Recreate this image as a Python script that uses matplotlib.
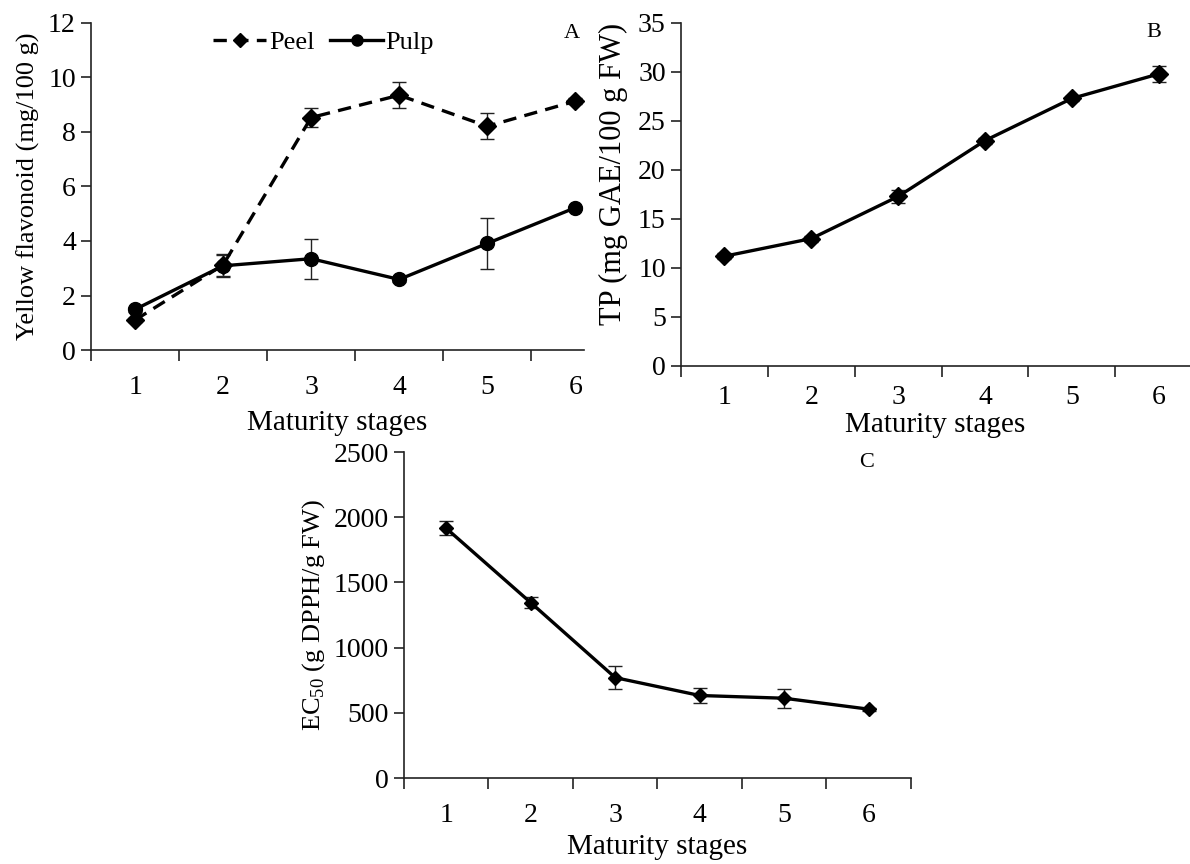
import numpy as np
import matplotlib
matplotlib.use("Agg")
import matplotlib.pyplot as plt
from matplotlib.ticker import MultipleLocator, FixedLocator

plt.rcParams['font.family'] = ['Liberation Serif', 'DejaVu Serif']
plt.rcParams['mathtext.fontset'] = 'custom'
plt.rcParams['mathtext.rm'] = 'Liberation Serif'

# Maturity stages
stages = [1, 2, 3, 4, 5, 6]

# A: yellow flavonoid (mg/100 g)
peel = [1.10, 3.12, 8.53, 9.35, 8.21, 9.13]
peel_err = [0.08, 0.40, 0.34, 0.48, 0.48, 0.10]
pulp = [1.49, 3.09, 3.35, 2.59, 3.91, 5.22]
pulp_err = [0.08, 0.40, 0.74, 0.08, 0.95, 0.08]

# B: total phenolics (mg GAE/100 g FW)
tp = [11.2, 13.0, 17.3, 23.0, 27.3, 29.8]
tp_err = [0.3, 0.3, 0.7, 0.3, 0.3, 0.85]

# C: EC50 (g DPPH/g FW)
ec50 = [1915, 1345, 770, 633, 612, 528]
ec50_err = [55, 42, 90, 57, 73, 12]

fig = plt.figure(figsize=(11.9, 8.64), dpi=100)

axA = fig.add_axes([0.0765, 0.5949, 0.4143, 0.3785])
axB = fig.add_axes([0.5723, 0.5764, 0.4277, 0.3970])
axC = fig.add_axes([0.3395, 0.0995, 0.4260, 0.3773])


def style_axis(ax, ymax, ystep, xright, last_tick, xpad):
    for s in ['top', 'right']:
        ax.spines[s].set_visible(False)
    for s in ['left', 'bottom']:
        ax.spines[s].set_color('#222222')
        ax.spines[s].set_linewidth(1.2)
    ax.set_xlim(0.5, xright)
    ax.set_ylim(0, ymax)
    ax.yaxis.set_major_locator(MultipleLocator(ystep))
    ax.xaxis.set_major_locator(FixedLocator(stages))
    minors = np.arange(0.5, last_tick + 0.01, 1.0)
    ax.xaxis.set_minor_locator(FixedLocator(minors))
    ax.tick_params(axis='x', which='major', length=0, pad=xpad, labelsize=20)
    ax.tick_params(axis='x', which='minor', length=8, width=1.2, color='#222222', direction='out')
    ax.tick_params(axis='y', which='major', length=7, width=1.2, color='#222222',
                   direction='out', labelsize=20, pad=4)


line_kw = dict(color='black', linewidth=2.4, elinewidth=1.0, ecolor='#222222', capsize=5, capthick=1.0)

# Panel A
pe = axA.errorbar(stages, peel, yerr=peel_err, linestyle='--', marker='D', markersize=9,
                  dashes=(4, 2.5), **line_kw)
pu = axA.errorbar(stages, pulp, yerr=pulp_err, linestyle='-', marker='o', markersize=10, **line_kw)
style_axis(axA, 12, 2, 6.10, 5.5, 18)
axA.set_xlabel('Maturity stages', fontsize=21, labelpad=7)
axA.set_ylabel('Yellow flavonoid (mg/100 g)', fontsize=19, labelpad=6)
axA.text(0.976, 0.969, 'A', transform=axA.transAxes, fontsize=16, ha='center', va='center')
axA.legend([pe[0], pu[0]], ['Peel', 'Pulp'], loc='upper left', bbox_to_anchor=(0.2, 1.05), ncol=2,
           frameon=False, fontsize=19, handlelength=2.0, handletextpad=0.1, columnspacing=0.6,
           markerscale=0.8)

# Panel B
tb = axB.errorbar(stages, tp, yerr=tp_err, linestyle='-', marker='D', markersize=9, **line_kw)
style_axis(axB, 35, 5, 6.36, 5.5, 14)
axB.set_xlabel('Maturity stages', fontsize=21, labelpad=1)
axB.set_ylabel('TP (mg GAE/100 g FW)', fontsize=22)
axB.yaxis.set_label_coords(-0.105, 0.56)
axB.text(0.929, 0.971, 'B', transform=axB.transAxes, fontsize=16, ha='center', va='center')

# Panel C
ec = axC.errorbar(stages, ec50, yerr=ec50_err, linestyle='-', marker='D', markersize=7, **line_kw)
style_axis(axC, 2500, 500, 6.5, 6.5, 18)
axC.set_xlabel('Maturity stages', fontsize=21, labelpad=4)
axC.set_ylabel(r'EC$_{50}$ (g DPPH/g FW)', fontsize=19)
axC.yaxis.set_label_coords(-0.152, 0.5)
axC.text(0.913, 0.969, 'C', transform=axC.transAxes, fontsize=16, ha='center', va='center')

fig.savefig('out.png', dpi=100)
